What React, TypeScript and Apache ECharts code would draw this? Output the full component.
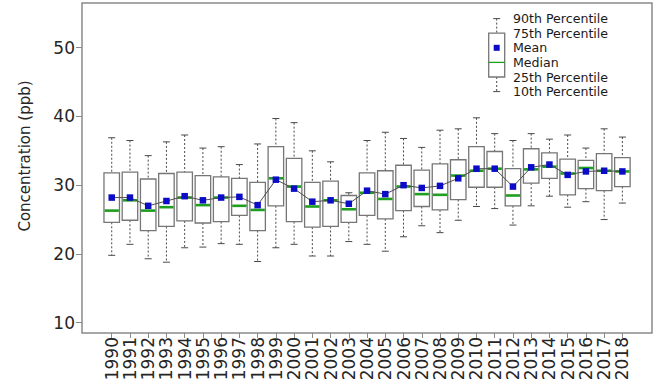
import React, { useEffect, useRef } from "react";
import * as echarts from "echarts";

// Annual ozone concentration distribution (ppb)
const years = [
  "1990", "1991", "1992", "1993", "1994", "1995", "1996", "1997", "1998", "1999",
  "2000", "2001", "2002", "2003", "2004", "2005", "2006", "2007", "2008", "2009",
  "2010", "2011", "2012", "2013", "2014", "2015", "2016", "2017", "2018",
];
const p90 = [
  36.9, 36.5, 34.3, 36.3, 37.3, 35.4, 35.6, 33.0, 36.0, 39.7,
  39.1, 35.0, 33.4, 28.9, 36.5, 37.7, 36.8, 35.5, 38.0, 38.2,
  39.8, 37.5, 36.5, 37.5, 36.7, 37.3, 35.4, 38.2, 37.0,
];
const p75 = [
  31.8, 31.9, 30.9, 31.7, 31.9, 31.4, 31.2, 31.0, 30.4, 35.6,
  33.9, 30.4, 30.6, 28.5, 31.8, 32.1, 32.9, 32.2, 33.1, 33.7,
  35.6, 34.9, 32.4, 35.3, 34.7, 33.8, 33.6, 34.6, 34.0,
];
const median = [
  26.3, 27.8, 26.3, 26.8, 28.2, 27.1, 28.2, 27.0, 26.4, 31.0,
  29.8, 26.9, 27.8, 26.5, 28.9, 28.0, 29.8, 28.7, 28.6, 31.4,
  32.1, 32.4, 28.5, 32.3, 32.7, 31.7, 32.5, 32.1, 32.0,
];
const mean = [
  28.2, 28.2, 27.0, 27.7, 28.4, 27.8, 28.2, 28.3, 27.1, 30.8,
  29.5, 27.6, 27.8, 27.3, 29.2, 28.7, 30.0, 29.6, 29.9, 31.0,
  32.4, 32.4, 29.8, 32.6, 33.0, 31.5, 32.0, 32.1, 32.0,
];
const p25 = [
  24.6, 24.9, 23.4, 24.0, 24.8, 24.5, 24.7, 25.6, 23.4, 27.0,
  24.7, 23.9, 24.0, 24.6, 25.6, 25.1, 26.3, 26.9, 26.4, 27.9,
  29.7, 29.7, 27.0, 30.3, 31.0, 28.6, 29.5, 29.2, 29.8,
];
const p10 = [
  19.8, 21.4, 19.3, 18.8, 20.9, 21.0, 21.5, 21.4, 18.9, 20.9,
  21.4, 19.7, 19.7, 21.8, 21.4, 20.4, 22.5, 24.1, 23.1, 24.9,
  26.9, 26.6, 24.2, 27.0, 28.4, 26.8, 27.6, 25.0, 27.4,
];
const yTicks = [10, 20, 30, 40, 50];
const legendLabels = [
  "90th Percentile",
  "75th Percentile",
  "Mean",
  "Median",
  "25th Percentile",
  "10th Percentile",
];

const FONT = "DejaVu Sans";
const TEXT = "#262626";
const FRAME = "#8a8a8a";
const BOX = "#767676";
const WHISKER = "#4a4a4a";
const MEDIAN = "#1f9e1f";
const MEAN = "#0b0bc8";

// Legend key: a small box glyph next to its six labels
function legendGraphics(): any[] {
  const step = 14.6;
  const y0 = 18.6;
  const ys = legendLabels.map((_, i) => y0 + i * step);
  const cx = 496.7;
  const w = 16;
  const [top, boxTop, meanY, medY, boxBot, bot] = ys;
  const els: any[] = [
    { type: "line", shape: { x1: cx, y1: top, x2: cx, y2: boxTop }, style: { stroke: WHISKER, lineWidth: 1, lineDash: [2, 2] } },
    { type: "line", shape: { x1: cx, y1: boxBot, x2: cx, y2: bot }, style: { stroke: WHISKER, lineWidth: 1, lineDash: [2, 2] } },
    { type: "line", shape: { x1: cx - 3.5, y1: top, x2: cx + 3.5, y2: top }, style: { stroke: WHISKER, lineWidth: 1 } },
    { type: "line", shape: { x1: cx - 3.5, y1: bot, x2: cx + 3.5, y2: bot }, style: { stroke: WHISKER, lineWidth: 1 } },
    { type: "rect", shape: { x: cx - w / 2, y: boxTop, width: w, height: boxBot - boxTop }, style: { fill: "#fff", stroke: BOX, lineWidth: 1.3 } },
    { type: "line", shape: { x1: cx - w / 2, y1: medY, x2: cx + w / 2, y2: medY }, style: { stroke: MEDIAN, lineWidth: 1.3 } },
    { type: "rect", shape: { x: cx - 3, y: meanY - 3, width: 6, height: 6 }, style: { fill: MEAN } },
  ];
  legendLabels.forEach((t, i) => {
    els.push({
      type: "text",
      x: 513,
      y: ys[i],
      style: {
        text: t,
        fill: "#1a1a1a",
        font: `12.6px "${FONT}"`,
        align: "left",
        verticalAlign: "middle",
      },
    });
  });
  return els;
}

export default function App() {
  const ref = useRef<HTMLDivElement>(null);

  useEffect(() => {
    document.body.style.margin = "0";
    if (!ref.current) return;
    const chart = echarts.init(ref.current, null, { renderer: "svg" });

    const boxData = years.map((_, i) => [i, p10[i], p25[i], median[i], p75[i], p90[i]]);

    const option: any = {
      animation: false,
      backgroundColor: "#fff",
      grid: { left: 102.6, right: 24.5, top: 3, bottom: 56, containLabel: false },
      xAxis: {
        type: "category",
        data: years,
        boundaryGap: true,
        axisLine: { show: false },
        axisTick: { show: true, alignWithLabel: true, length: 5, lineStyle: { color: FRAME, width: 1 } },
        axisLabel: {
          rotate: 90,
          interval: 0,
          margin: 4,
          fontSize: 17,
          fontFamily: FONT,
          color: TEXT,
        },
        splitLine: { show: false },
      },
      yAxis: {
        type: "value",
        min: 8.5,
        max: 56.5,
        offset: 20.6,
        axisLine: { show: false },
        axisTick: { show: true, customValues: yTicks, length: 6, lineStyle: { color: FRAME, width: 1 } },
        axisLabel: { customValues: yTicks, margin: 7, fontSize: 17, fontFamily: FONT, color: TEXT },
        splitLine: { show: false },
      },
      graphic: [
        {
          type: "rect",
          silent: true,
          z: 10,
          shape: { x: 82, y: 3, width: 570, height: 330 },
          style: { fill: "none", stroke: FRAME, lineWidth: 1.5 },
        },
        {
          type: "text",
          x: 25,
          y: 156,
          rotation: Math.PI / 2,
          style: {
            text: "Concentration (ppb)",
            fill: TEXT,
            font: `15px "${FONT}"`,
            align: "center",
            verticalAlign: "middle",
          },
        },
        ...legendGraphics(),
      ],
      series: [
        {
          type: "custom",
          data: boxData,
          encode: { x: 0, y: [1, 2, 3, 4, 5] },
          z: 2,
          renderItem: (params: any, api: any) => {
            const idx = api.value(0);
            const pLow = api.coord([idx, api.value(1)]);
            const pQ1 = api.coord([idx, api.value(2)]);
            const pMed = api.coord([idx, api.value(3)]);
            const pQ3 = api.coord([idx, api.value(4)]);
            const pHigh = api.coord([idx, api.value(5)]);
            const cx = pMed[0];
            const bw = api.size([1, 0])[0] * 0.85;
            const capHalf = 3.5;
            return {
              type: "group",
              children: [
                { type: "line", shape: { x1: cx, y1: pHigh[1], x2: cx, y2: pQ3[1] }, style: { stroke: WHISKER, lineWidth: 1, lineDash: [2, 2] } },
                { type: "line", shape: { x1: cx, y1: pQ1[1], x2: cx, y2: pLow[1] }, style: { stroke: WHISKER, lineWidth: 1, lineDash: [2, 2] } },
                { type: "line", shape: { x1: cx - capHalf, y1: pHigh[1], x2: cx + capHalf, y2: pHigh[1] }, style: { stroke: WHISKER, lineWidth: 1 } },
                { type: "line", shape: { x1: cx - capHalf, y1: pLow[1], x2: cx + capHalf, y2: pLow[1] }, style: { stroke: WHISKER, lineWidth: 1 } },
                { type: "rect", shape: { x: cx - bw / 2, y: pQ3[1], width: bw, height: pQ1[1] - pQ3[1] }, style: { fill: "#fff", stroke: BOX, lineWidth: 1.3 } },
                { type: "line", shape: { x1: cx - bw / 2 + 0.6, y1: pMed[1], x2: cx + bw / 2 - 0.6, y2: pMed[1] }, style: { stroke: MEDIAN, lineWidth: 2.6 } },
              ],
            };
          },
        },
        {
          type: "line",
          data: mean,
          z: 3,
          symbol: "rect",
          symbolSize: 6.5,
          itemStyle: { color: MEAN },
          lineStyle: { color: "#4d4d4d", width: 1 },
        },
      ],
    };

    chart.setOption(option);
    return () => chart.dispose();
  }, []);

  return <div ref={ref} style={{ width: 656, height: 389 }} />;
}
